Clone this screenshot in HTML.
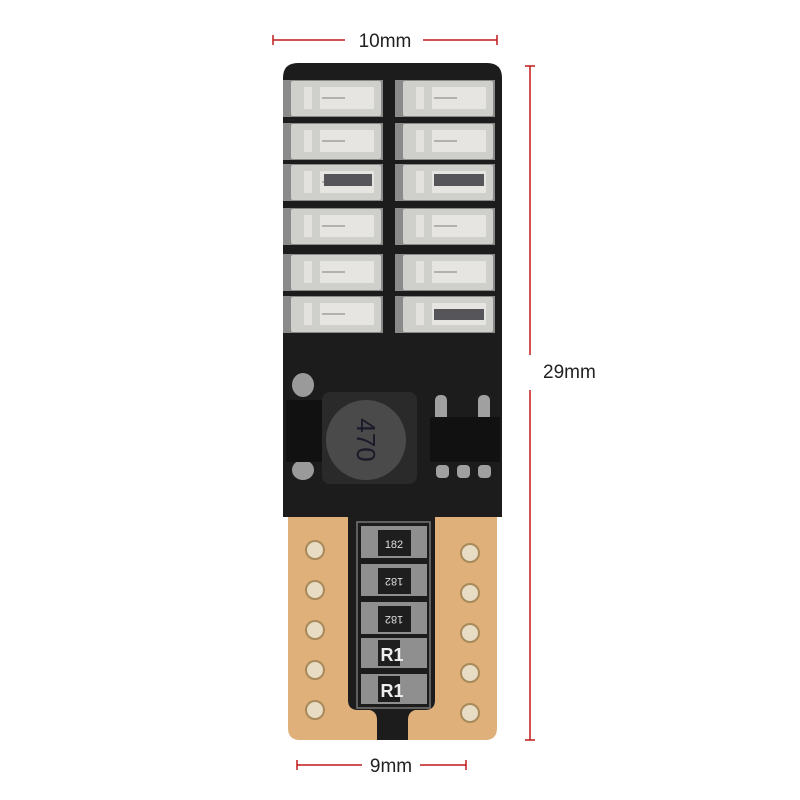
<!DOCTYPE html>
<html><head><meta charset="utf-8"><style>
html,body{margin:0;padding:0;background:#fff;}
svg{display:block}
</style></head><body>
<svg width="800" height="800" viewBox="0 0 800 800" xmlns="http://www.w3.org/2000/svg" font-family="Liberation Sans, sans-serif">
<rect width="800" height="800" fill="#fff"/>
<g stroke="#c01818" stroke-width="1.5" fill="none">
<line x1="273" y1="40" x2="345" y2="40"/><line x1="423" y1="40" x2="497" y2="40"/>
<line x1="273" y1="35" x2="273" y2="45"/><line x1="497" y1="35" x2="497" y2="45"/>
<line x1="530" y1="66" x2="530" y2="355"/><line x1="530" y1="390" x2="530" y2="740"/>
<line x1="525" y1="66" x2="535" y2="66"/><line x1="525" y1="740" x2="535" y2="740"/>
<line x1="297" y1="765" x2="362" y2="765"/><line x1="420" y1="765" x2="466" y2="765"/>
<line x1="297" y1="760" x2="297" y2="770"/><line x1="466" y1="760" x2="466" y2="770"/>
</g>
<text x="385" y="47" font-size="19" text-anchor="middle" fill="#222">10mm</text>
<text x="543" y="378" font-size="19" fill="#222">29mm</text>
<text x="391" y="772" font-size="19" text-anchor="middle" fill="#222">9mm</text>
<path d="M288 517 H497 V728 Q497 740 485 740 H300 Q288 740 288 728 Z" fill="#dfb07a"/>
<path d="M283 517 V78 Q283 63 298 63 H487 Q502 63 502 78 V517 Z" fill="#1c1c1c"/>
<path d="M348 517 H435 V700 Q435 710 425 710 H415 Q408 712 408 720 V740 H377 V720 Q377 712 370 710 H358 Q348 710 348 700 Z" fill="#1c1c1c"/>
<g>
<g id="led">
<rect x="283" y="80" width="100" height="37" fill="#8a8a8a"/>
<rect x="291" y="81" width="90" height="35" rx="2" fill="#cfcfcc"/>
<rect x="304" y="87" width="8" height="22" fill="#e3e2df"/>
<rect x="320" y="87" width="54" height="22" fill="#e6e5e2"/>
<line x1="322" y1="98" x2="345" y2="98" stroke="#a0a09c" stroke-width="1.5"/>
</g>
<use href="#led" x="112"/>
<use href="#led" y="43"/><use href="#led" x="112" y="43"/>
<use href="#led" y="84"/><use href="#led" x="112" y="84"/>
<use href="#led" y="128"/><use href="#led" x="112" y="128"/>
<use href="#led" y="174"/><use href="#led" x="112" y="174"/>
<use href="#led" y="216"/><use href="#led" x="112" y="216"/>
<rect x="324" y="174" width="48" height="12" fill="#55555a"/>
<rect x="434" y="174" width="50" height="12" fill="#55555a"/>
<rect x="434" y="309" width="50" height="11" fill="#55555a"/>
</g>
<ellipse cx="303" cy="385" rx="11" ry="12" fill="#9a9a9a"/>
<ellipse cx="303" cy="470" rx="11" ry="10" fill="#9a9a9a"/>
<rect x="286" y="400" width="37" height="62" fill="#111"/>
<rect x="322" y="392" width="95" height="92" rx="8" fill="#2a2a2a"/>
<circle cx="366" cy="440" r="40" fill="#4a4a4a"/>
<text x="366" y="440" font-size="26" text-anchor="middle" fill="#1a1a2a" transform="rotate(90 366 440)" dy="9">470</text>
<rect x="435" y="395" width="12" height="30" rx="5" fill="#a0a0a0"/>
<rect x="478" y="395" width="12" height="30" rx="5" fill="#a0a0a0"/>
<rect x="430" y="417" width="70" height="45" fill="#111"/>
<rect x="436" y="465" width="13" height="13" rx="4" fill="#a0a0a0"/>
<rect x="457" y="465" width="13" height="13" rx="4" fill="#a0a0a0"/>
<rect x="478" y="465" width="13" height="13" rx="4" fill="#a0a0a0"/>
<rect x="357" y="522" width="73" height="186" fill="none" stroke="#777" stroke-width="1.5"/>
<g font-size="11" fill="#ddd" text-anchor="middle">
<g><rect x="361" y="526" width="66" height="32" fill="#8f8f8f"/><rect x="378" y="530" width="33" height="26" fill="#1e1e1e"/><text x="394" y="548">182</text></g>
<g><rect x="361" y="564" width="66" height="32" fill="#8f8f8f"/><rect x="378" y="568" width="33" height="26" fill="#1e1e1e"/><text x="394" y="586" transform="rotate(180 394 582)">182</text></g>
<g><rect x="361" y="602" width="66" height="32" fill="#8f8f8f"/><rect x="378" y="606" width="33" height="26" fill="#1e1e1e"/><text x="394" y="624" transform="rotate(180 394 620)">182</text></g>
<rect x="361" y="638" width="66" height="30" fill="#8f8f8f"/><rect x="378" y="640" width="22" height="26" fill="#1e1e1e"/>
<rect x="361" y="674" width="66" height="30" fill="#8f8f8f"/><rect x="378" y="676" width="22" height="26" fill="#1e1e1e"/>
</g>
<text x="392" y="661" font-size="18" font-weight="bold" fill="#eee" text-anchor="middle">R1</text>
<text x="392" y="697" font-size="18" font-weight="bold" fill="#eee" text-anchor="middle">R1</text>
<g fill="#e8dcc4" stroke="#a88a5a" stroke-width="2">
<circle cx="315" cy="550" r="9"/><circle cx="315" cy="590" r="9"/><circle cx="315" cy="630" r="9"/><circle cx="315" cy="670" r="9"/><circle cx="315" cy="710" r="9"/>
<circle cx="470" cy="553" r="9"/><circle cx="470" cy="593" r="9"/><circle cx="470" cy="633" r="9"/><circle cx="470" cy="673" r="9"/><circle cx="470" cy="713" r="9"/>
</g>
</svg>
</body></html>
